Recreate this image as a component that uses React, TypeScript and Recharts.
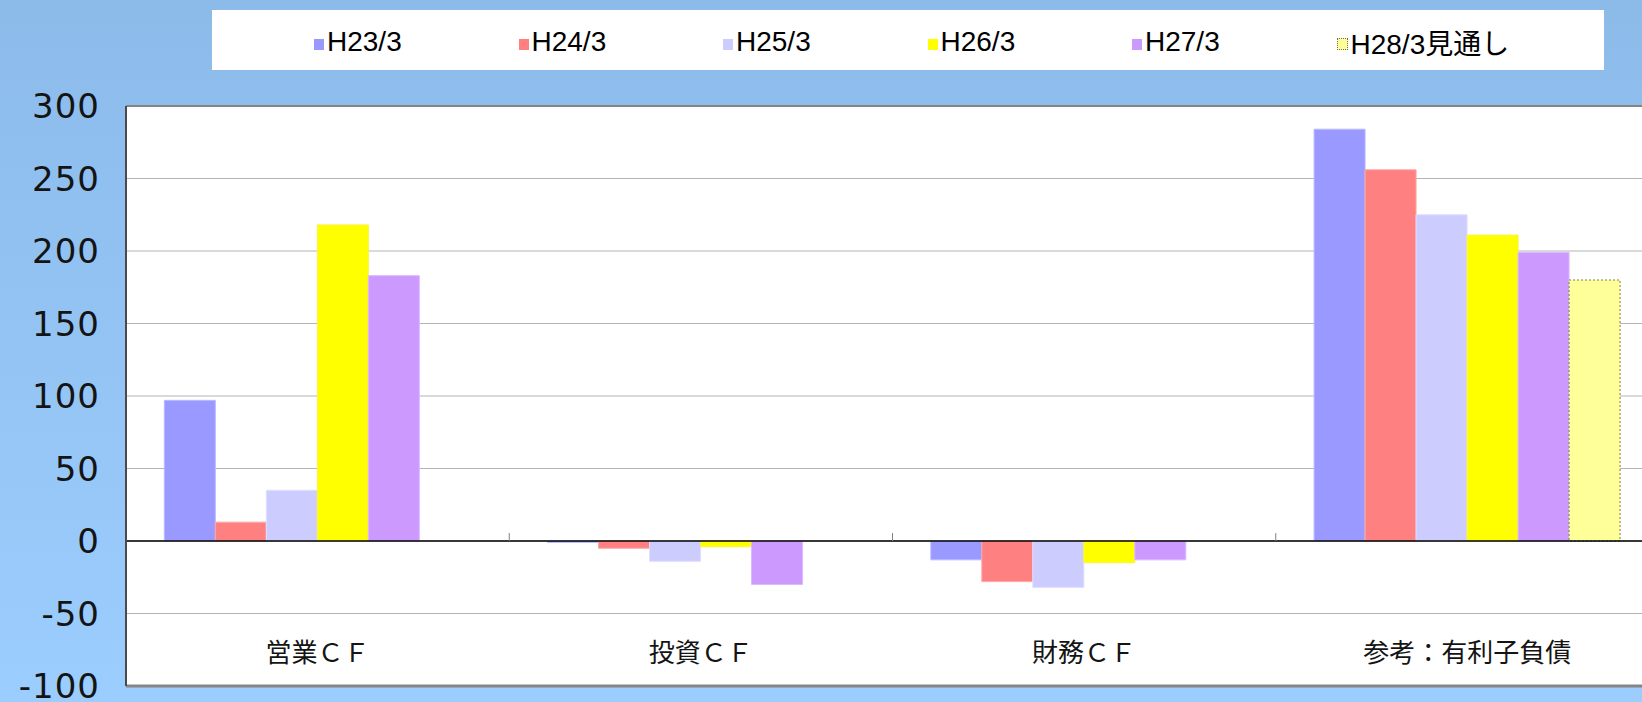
import { BarChart, Bar, XAxis, YAxis, CartesianGrid, ReferenceLine, Legend } from "recharts";

const CATEGORIES = ["営業ＣＦ", "投資ＣＦ", "財務ＣＦ", "参考：有利子負債"];
const SERIES_NAMES = ["H23/3", "H24/3", "H25/3", "H26/3", "H27/3", "H28/3見通し"];

// values per category, in CATEGORIES order
const H23 = [97, -1, -13, 284];
const H24 = [13, -5, -28, 256];
const H25 = [35, -14, -32, 225];
const H26 = [218, -4, -15, 211];
const H27 = [183, -30, -13, 199];
const H28 = [null, null, null, 180];

const Y_TICKS = [-100, -50, 0, 50, 100, 150, 200, 250, 300];

const SERIES_VALUES = [H23, H24, H25, H26, H27, H28];
const FILLS = ["#9999ff", "#ff8080", "#ccccff", "#ffff00", "#cc99ff", "#ffff99"];
const STROKES = ["#babaff", "#ffa6a6", "#dedeff", "#f5f540", "#dcb8ff", "#7a7a50"];

const data = CATEGORIES.map((name, i) => {
  const row: Record<string, string | number | null> = { name };
  SERIES_NAMES.forEach((s, j) => {
    row[s] = SERIES_VALUES[j][i];
  });
  return row;
});

const TEXT_COLOR = "#141414";

const CategoryTick = (props: any) => {
  const { x, y, payload } = props;
  return (
    <text
      x={x}
      y={y}
      dy={-44}
      textAnchor="middle"
      dominantBaseline="central"
      fill={TEXT_COLOR}
      style={{ fontSize: 26, fontFamily: "'Noto Sans CJK JP', sans-serif" }}
    >
      {payload.value}
    </text>
  );
};

const renderLegend = () => (
  <div
    style={{
      display: "flex",
      alignItems: "center",
      height: 60,
      paddingTop: 3,
      boxSizing: "border-box",
      paddingLeft: 102,
      fontFamily: "'Liberation Sans', 'Noto Sans CJK JP', sans-serif",
      fontSize: 28,
      color: "#000",
    }}
  >
    {SERIES_NAMES.map((n, i) => (
      <div key={n} style={{ width: 204.5, display: "flex", alignItems: "center", flex: "none" }}>
        <span
          style={{
            display: "inline-block",
            width: i === 5 ? 9 : 10,
            height: i === 5 ? 10 : 11,
            marginTop: 5,
            marginRight: 3,
            background: FILLS[i],
            border: i === 5 ? "1px dotted #707050" : "none",
          }}
        />
        <span style={{ whiteSpace: "nowrap" }}>{n}</span>
      </div>
    ))}
  </div>
);

export default function App() {
  return (
    <div
      style={{
        position: "fixed",
        left: 0,
        top: 0,
        width: 1642,
        height: 702,
        overflow: "hidden",
        background: "linear-gradient(#8cbbea, #9bcdfe)",
      }}
    >
      <BarChart
        width={1700}
        height={702}
        data={data}
        margin={{ top: 106, right: 41, bottom: 15, left: 0 }}
        barCategoryGap="10%"
        barGap={0}
      >
        <CartesianGrid horizontal vertical={false} stroke="#b4b4b4" fill="#ffffff" />
        <XAxis
          dataKey="name"
          height={1}
          axisLine={false}
          tickLine={false}
          tick={<CategoryTick />}
          interval={0}
        />
        <YAxis
          type="number"
          domain={[-100, 300]}
          ticks={Y_TICKS}
          width={126}
          axisLine={{ stroke: "#4a4a4a", strokeWidth: 2 }}
          tickLine={false}
          tickMargin={20}
          tick={{ fill: TEXT_COLOR, fontSize: 34, fontFamily: "'DejaVu Sans', sans-serif", letterSpacing: 1 }}
          interval={0}
        />
        <Legend
          layout="horizontal"
          verticalAlign="middle"
          align="center"
          content={renderLegend}
          wrapperStyle={{ top: 10, left: 212, width: 1392, height: 60, background: "#ffffff" }}
        />
        {SERIES_NAMES.map((s, i) => (
          <Bar
            key={s}
            dataKey={s}
            fill={FILLS[i]}
            stroke={STROKES[i]}
            strokeWidth={1}
            strokeDasharray={i === 5 ? "2 2" : undefined}
            isAnimationActive={false}
          />
        ))}
        <ReferenceLine y={300} stroke="#858585" strokeWidth={2} />
        <ReferenceLine y={-100} stroke="#858585" strokeWidth={3} />
        <ReferenceLine y={0} stroke="#000000" strokeWidth={1.5} />
        {CATEGORIES.slice(1).map((c) => (
          <ReferenceLine
            key={c}
            position="start"
            segment={[{ x: c, y: 0 }, { x: c, y: 5.5 }]}
            stroke="#808080"
            strokeWidth={1}
          />
        ))}
      </BarChart>
    </div>
  );
}
